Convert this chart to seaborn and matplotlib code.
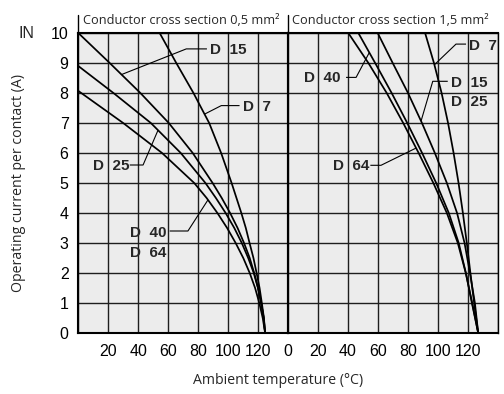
import numpy as np
import pandas as pd
import matplotlib
matplotlib.use("Agg")
import matplotlib.pyplot as plt
import seaborn as sns

# ---- derating curves, conductor cross section 0,5 mm² ----
d7_05_temp = [54.4, 65.5, 77.0, 87.5, 95.5, 102.5, 109.0, 112.0, 114.5, 117.1, 119.2, 121.2, 122.7, 124.1, 124.9]
d7_05_amp = [10, 9, 8, 7, 6, 5, 4, 3.5, 3, 2.5, 2, 1.5, 1, 0.5, 0]
d15_05_temp = [0.0, 21.0, 41.5, 60.5, 76.5, 89.8, 95.9, 101.5, 106.5, 110.8, 114.6, 117.6, 120.2, 122.2, 124.0, 124.9]
d15_05_amp = [10, 9, 8, 7, 6, 5, 4.5, 4, 3.5, 3, 2.5, 2, 1.5, 1, 0.5, 0]
d25_05_temp = [0.0, 23.5, 48.5, 68.5, 85.0, 92.0, 98.5, 104.3, 109.3, 113.6, 117.3, 120.1, 122.3, 123.9, 124.9]
d25_05_amp = [8.9, 8, 7, 6, 5, 4.5, 4, 3.5, 3, 2.5, 2, 1.5, 1, 0.5, 0]
d40_05_temp = [0.0, 30.0, 56.0, 77.5, 85.8, 93.0, 99.5, 105.2, 110.3, 114.6, 118.2, 121.0, 123.3, 124.9]
d40_05_amp = [8.07, 7, 6, 5, 4.5, 4, 3.5, 3, 2.5, 2, 1.5, 1, 0.5, 0]

# ---- derating curves, conductor cross section 1,5 mm² ----
amp_15 = [10, 9, 8, 7, 6, 5, 4, 3, 2, 1, 0]
d64_15_temp = [40.4, 53.8, 66.0, 77.0, 87.3, 97.1, 106.1, 113.4, 118.7, 123.0, 127.0]
d40_15_temp = [47.1, 58.3, 69.3, 79.7, 89.6, 99.0, 107.4, 114.0, 118.8, 122.8, 127.0]
d15_15_temp = [60.0, 70.0, 80.2, 89.5, 98.1, 106.1, 112.9, 117.9, 121.5, 124.8, 127.0]
d7_15_temp = [91.6, 97.5, 102.6, 106.9, 110.6, 113.9, 116.8, 119.4, 121.8, 124.3, 127.0]

x_ticks = [0, 20, 40, 60, 80, 100, 120, 140]
x_labels_05 = ["", "20", "40", "60", "80", "100", "120", ""]
x_labels_15 = ["0", "20", "40", "60", "80", "100", "120", ""]
y_ticks = [0, 1, 2, 3, 4, 5, 6, 7, 8, 9, 10]

panel_titles = ["Conductor cross section 0,5 mm²", "Conductor cross section 1,5 mm²"]
y_title = "Operating current per contact (A)"
x_title = "Ambient temperature (°C)"


def frame(curves):
    rows = []
    for name, (t, a) in curves.items():
        rows.append(pd.DataFrame({"curve": name, "temp": t, "amp": a}))
    return pd.concat(rows, ignore_index=True)


curves_05 = {
    "D 7": (d7_05_temp, d7_05_amp),
    "D 15": (d15_05_temp, d15_05_amp),
    "D 25": (d25_05_temp, d25_05_amp),
    "D 40": (d40_05_temp, d40_05_amp),
}
curves_15 = {
    "D 64": (d64_15_temp, amp_15),
    "D 40": (d40_15_temp, amp_15),
    "D 15": (d15_15_temp, amp_15),
    "D 7": (d7_15_temp, amp_15),
}
df_05 = frame(curves_05)
df_15 = frame(curves_15)

sns.set_style("white")
plt.rcParams["font.family"] = ["Liberation Sans", "DejaVu Sans"]
label_font = ["Open Sans", "DejaVu Sans"]

W, H = 504, 394
fig = plt.figure(figsize=(W / 100, H / 100), dpi=100)
ax_l = fig.add_axes([78.3 / W, 61 / H, 209.4 / W, 300 / H])
ax_r = fig.add_axes([287.7 / W, 61 / H, 210 / W, 300 / H])

grid_c = "#1e1e1e"
for ax, df, labels in ((ax_l, df_05, x_labels_05), (ax_r, df_15, x_labels_15)):
    ax.set_facecolor("#ececec")
    sns.lineplot(data=df, x="temp", y="amp", units="curve", estimator=None,
                 sort=False, color="black", lw=1.25, ax=ax, legend=False)
    ax.set_xlim(0, 140)
    ax.set_ylim(0, 10)
    ax.set_xticks(x_ticks)
    ax.set_xticklabels(labels)
    ax.set_yticks(y_ticks)
    ax.grid(True, color=grid_c, lw=1.0)
    ax.set_axisbelow(True)
    ax.set_xlabel("")
    ax.set_ylabel("")
    ax.tick_params(length=0, labelsize=11.5, colors="black", pad=8)
    for s in ("left", "top", "bottom", "right"):
        ax.spines[s].set_color("black")
        ax.spines[s].set_linewidth(1.5)
ax_r.spines["right"].set_linewidth(1.0)
ax_r.tick_params(axis="y", labelleft=False)
ax_l.tick_params(axis="y", pad=7)

# panel titles with separator bars
for ax, title in ((ax_l, panel_titles[0]), (ax_r, panel_titles[1])):
    ax.plot([0, 0], [1.0, 1.06], transform=ax.transAxes, color="black",
            lw=1.0, clip_on=False)
    ax.text(0.022, 1.03, title, transform=ax.transAxes, ha="left",
            va="baseline", fontsize=9.2, family=label_font)

fig.text(18 / W, (H - 33) / H, "IN", fontsize=11.5, ha="left", va="center")
fig.text(19 / W, (H - 183) / H, y_title, rotation=90, ha="center", va="center",
         fontsize=10.2, family=label_font)
fig.text(278 / W, (H - 381) / H, x_title, ha="center", va="center",
         fontsize=10.2, family=label_font)


def leader(ax, name, curves, t_on, knee, end):
    """Leader from the label (end) over a knee point to the curve at t_on."""
    t, a = curves[name]
    a_on = float(np.interp(t_on, t, a))
    ax.plot([end[0], knee[0], t_on], [end[1], knee[1], a_on],
            color="black", lw=0.8, solid_capstyle="butt")


lab = dict(fontsize=11, fontweight="bold", va="center", ha="left")

# 0,5 mm² labels
ax_l.text(87.8, 9.45, "D  15", **lab)
leader(ax_l, "D 15", curves_05, 28.9, (72.2, 9.47), (86.0, 9.47))
ax_l.text(110.0, 7.52, "D  7", **lab)
leader(ax_l, "D 7", curves_05, 84.4, (95.6, 7.58), (107.8, 7.58))
ax_l.text(10.0, 5.56, "D  25", **lab)
leader(ax_l, "D 25", curves_05, 53.3, (43.3, 5.6), (34.4, 5.6))
ax_l.text(34.4, 3.32, "D  40", **lab)
ax_l.text(34.4, 2.68, "D  64", **lab)
leader(ax_l, "D 40", curves_05, 86.7, (73.3, 3.4), (61.1, 3.4))

# 1,5 mm² labels
ax_r.text(121.1, 9.56, "D  7", **lab)
leader(ax_r, "D 7", curves_15, 97.8, (112.2, 9.63), (118.9, 9.63))
ax_r.text(108.9, 8.33, "D  15", **lab)
ax_r.text(108.9, 7.70, "D  25", **lab)
leader(ax_r, "D 15", curves_15, 88.9, (96.7, 8.39), (106.7, 8.39))
ax_r.text(11.1, 8.5, "D  40", **lab)
leader(ax_r, "D 40", curves_15, 54.4, (45.6, 8.52), (38.9, 8.52))
ax_r.text(30.0, 5.56, "D  64", **lab)
leader(ax_r, "D 64", curves_15, 85.6, (62.2, 5.59), (55.1, 5.59))

fig.savefig("out.png", dpi=100)
